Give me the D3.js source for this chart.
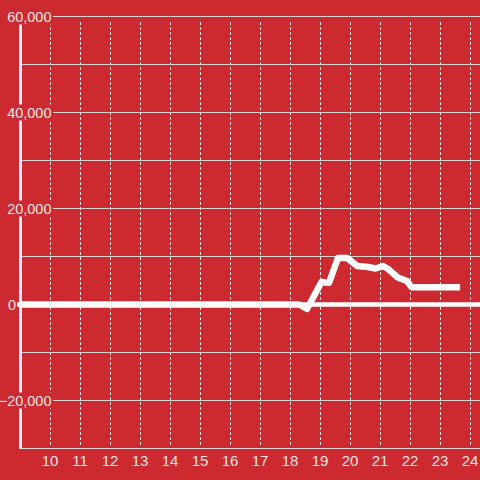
<!DOCTYPE html>
<html>
<head>
<meta charset="utf-8">
<script src="https://cdn.jsdelivr.net/npm/d3@7"></script>
<style>
  body { margin: 0; background: #cc2a30; }
  svg { display: block; }
</style>
</head>
<body>
<div id="chart"></div>
<script>
// data
const xValues = [9, 18.3, 18.57, 19.05, 19.3, 19.6, 19.9, 20.25, 20.6, 20.85, 21.1, 21.25, 21.6, 21.9, 22.05, 23.67];
const yValues = [0, 0, -900, 4700, 4500, 9700, 9700, 8000, 7800, 7500, 8000, 7500, 5600, 4900, 3600, 3600];
const yTicks = [-30000, -20000, -10000, 0, 10000, 20000, 30000, 40000, 50000, 60000];
const yLabelTicks = [-20000, 0, 20000, 40000, 60000];
const xTicks = [10, 11, 12, 13, 14, 15, 16, 17, 18, 19, 20, 21, 22, 23, 24];

const WIDTH = 480, HEIGHT = 480;
const BG = "#cc2a30";

const svg = d3.select("#chart")
  .append("svg")
  .attr("width", WIDTH)
  .attr("height", HEIGHT)
  .style("font-family", "'Liberation Sans', Arial, sans-serif");

svg.append("rect").attr("width", WIDTH).attr("height", HEIGHT).attr("fill", BG);

const x = d3.scaleLinear().domain([9, 24]).range([20, 470]);
const y = d3.scaleLinear().domain([-30000, 60000]).range([448.5, 16.5]);

// vertical dashed grid
svg.append("g")
  .selectAll("line")
  .data(xTicks)
  .join("line")
  .attr("x1", d => Math.round(x(d)) + 0.5)
  .attr("x2", d => Math.round(x(d)) + 0.5)
  .attr("y1", 22)
  .attr("y2", 447)
  .attr("stroke", "#f2e0e0")
  .attr("stroke-width", 1)
  .attr("stroke-dasharray", "3,2");

// horizontal grid
svg.append("g")
  .selectAll("line")
  .data(yTicks.filter(d => d !== 0))
  .join("line")
  .attr("x1", 20)
  .attr("x2", WIDTH)
  .attr("y1", d => y(d))
  .attr("y2", d => y(d))
  .attr("stroke", "#d9d4d4")
  .attr("stroke-width", 1);

// zero line
svg.append("line")
  .attr("x1", 17).attr("x2", WIDTH)
  .attr("y1", y(0)).attr("y2", y(0))
  .attr("stroke", "#fff")
  .attr("stroke-width", 4.5);

// y axis line
svg.append("line")
  .attr("x1", 20.5).attr("x2", 20.5)
  .attr("y1", 16).attr("y2", 449)
  .attr("stroke", "#f4eeee")
  .attr("stroke-width", 3);

// data line
const line = d3.line()
  .x((d, i) => x(xValues[i]))
  .y(d => y(d));

svg.append("path")
  .datum(yValues)
  .attr("d", line)
  .attr("fill", "none")
  .attr("stroke", "#fff")
  .attr("stroke-width", 6.5)
  .attr("stroke-linejoin", "round");

// y labels with background
const fmt = d3.format(",");
const yl = svg.append("g")
  .selectAll("g")
  .data(yLabelTicks)
  .join("g")
  .attr("transform", d => `translate(0,${y(d)})`);

yl.filter(d => d !== 0)
  .append("rect")
  .attr("x", 2)
  .attr("y", -8)
  .attr("width", 51)
  .attr("height", 16)
  .attr("fill", BG);

yl.append("text")
  .attr("x", d => d === 0 ? 8 : 51.5)
  .attr("text-anchor", d => d === 0 ? "start" : "end")
  .attr("dy", "0.35em")
  .attr("fill", "#f6e4e4")
  .style("font-size", "14.5px")
  .text(d => fmt(d));

// x labels
svg.append("g")
  .selectAll("text")
  .data(xTicks)
  .join("text")
  .attr("x", d => x(d))
  .attr("y", 466)
  .attr("text-anchor", "middle")
  .attr("fill", "#f6e4e4")
  .style("font-size", "15px")
  .text(d => d);
</script>
</body>
</html>
